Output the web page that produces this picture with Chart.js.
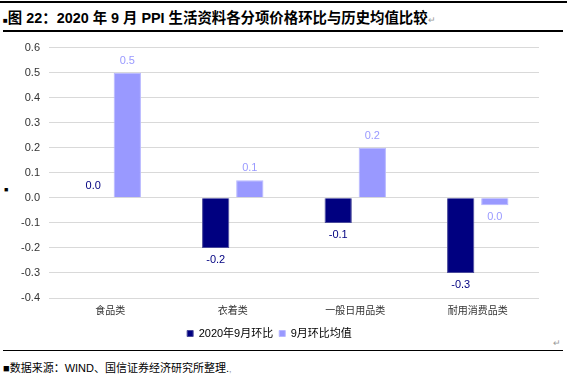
<!DOCTYPE html>
<html><head><meta charset="utf-8">
<script src="https://cdn.jsdelivr.net/npm/chart.js@4/dist/chart.umd.min.js"></script>
<style>
body{margin:0;width:567px;height:378px;background:#fff;position:relative;overflow:hidden;font-family:"Liberation Sans","Noto Sans CJK SC",sans-serif;}
.line{position:absolute;left:3px;width:560px;height:1px;background:#000;}
#title{position:absolute;left:3px;top:6px;font-size:14.4px;font-weight:bold;color:#000;white-space:nowrap;}
#src{position:absolute;left:3px;top:359px;font-size:11px;color:#000;white-space:nowrap;}
.ret{color:#999;font-weight:normal;font-size:9px;letter-spacing:0}
#mk{position:absolute;left:4px;top:186px;font-size:7px;color:#000}
canvas{position:absolute;left:0;top:32px;}
</style></head><body>
<div class="line" style="top:1px;left:0;width:567px;height:1.5px"></div>
<div id="title"><span style="font-size:8px;">■</span>图 22：2020 年 9 月 PPI 生活资料各分项价格环比与历史均值比较<span class="ret">↵</span></div>
<div class="line" style="top:30px;height:1.5px"></div>
<div id="mk">■</div>
<div class="line" style="top:350px"></div>
<div style="position:absolute;left:553px;top:338px;font-size:9px;color:#999">↵</div>
<div id="src">■数据来源：WIND、国信证券经济研究所整理.<span class="ret">,</span></div>
<canvas id="c" width="567" height="317"></canvas>
<script>
const categories = ["食品类", "衣着类", "一般日用品类", "耐用消费品类"];
const seriesNames = ["2020年9月环比", "9月环比均值"];
const sep2020 = [0.0, -0.2, -0.1, -0.3];
const sepAvg = [0.5, 0.07, 0.2, -0.03];
const yTicks = [-0.4, -0.3, -0.2, -0.1, 0.0, 0.1, 0.2, 0.3, 0.4, 0.5, 0.6];

const fmt = v => (Math.abs(v) < 0.05 ? 0 : v).toFixed(1);
const labelColors = ["#000080", "#9999FF"];

const dataLabels = {
  id: "dataLabels",
  afterDatasetsDraw(chart) {
    const ctx = chart.ctx;
    ctx.save();
    ctx.font = '11px "Liberation Sans", Arial, sans-serif';
    ctx.textAlign = "center";
    ctx.textBaseline = "middle";
    chart.data.datasets.forEach((ds, i) => {
      const meta = chart.getDatasetMeta(i);
      ctx.fillStyle = labelColors[i];
      meta.data.forEach((el, j) => {
        const v = ds.data[j];
        const y = v >= 0 ? el.y - 12 : el.y + 12;
        ctx.fillText(fmt(v), el.x, y);
      });
    });
    ctx.restore();
  }
};

new Chart(document.getElementById("c"), {
  type: "bar",
  data: {
    labels: categories,
    datasets: [
      { label: seriesNames[0], data: sep2020, backgroundColor: "#000080", borderColor: "#4a4a9a", borderWidth: 1,
        categoryPercentage: 0.557, barPercentage: 0.8 },
      { label: seriesNames[1], data: sepAvg, backgroundColor: "#9999FF", borderColor: "#b8b8ff", borderWidth: 1,
        categoryPercentage: 0.557, barPercentage: 0.8 }
    ]
  },
  options: {
    responsive: false,
    animation: false,
    devicePixelRatio: 1,
    layout: { padding: { top: 13, right: 28, left: 0, bottom: 0 } },
    plugins: {
      legend: {
        position: "bottom",
        labels: {
          boxWidth: 6, boxHeight: 6, padding: 6, color: "#000",
          font: { family: '"Liberation Sans", "Noto Sans CJK SC", sans-serif', size: 11 }
        }
      },
      tooltip: { enabled: false }
    },
    scales: {
      y: {
        min: -0.4, max: 0.6,
        afterBuildTicks(scale) { scale.ticks = yTicks.map(v => ({ value: v })); },
        afterFit(scale) { scale.width = 49; },
        ticks: {
          padding: 9, color: "#333",
          font: { family: '"Liberation Sans", Arial, sans-serif', size: 11 },
          callback: v => fmt(v)
        },
        grid: { color: "#D9D9D9", drawTicks: false },
        border: { display: false }
      },
      x: {
        afterFit(scale) { scale.height = 24; },
        ticks: {
          padding: 6, color: "#333",
          font: { family: '"Noto Sans CJK SC", sans-serif', size: 10 }
        },
        grid: { display: false, drawTicks: false },
        border: { display: false }
      }
    }
  },
  plugins: [dataLabels]
});
</script>
</body></html>
